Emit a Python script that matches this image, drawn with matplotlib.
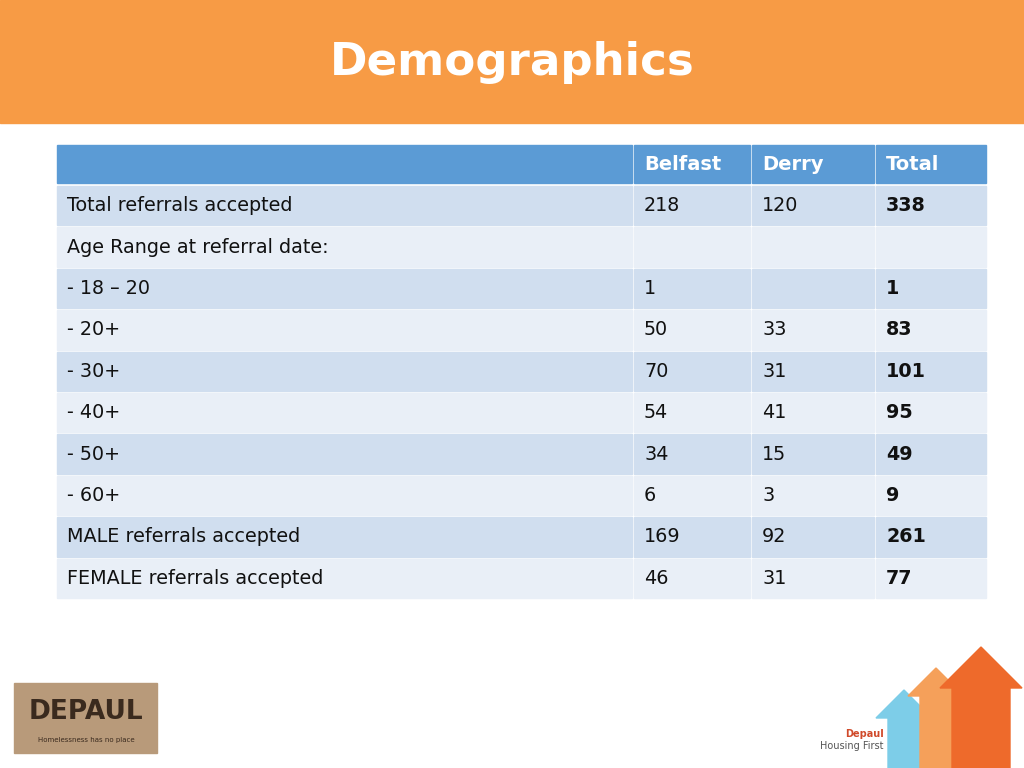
import matplotlib
matplotlib.use("Agg")
import matplotlib.pyplot as plt
from matplotlib.patches import Rectangle, Polygon

title = "Demographics"
columns = ["", "Belfast", "Derry", "Total"]
row_labels = ["Total referrals accepted", "Age Range at referral date:", "- 18 \u2013 20", "- 20+", "- 30+",
              "- 40+", "- 50+", "- 60+", "MALE referrals accepted", "FEMALE referrals accepted"]
belfast = ["218", "", "1", "50", "70", "54", "34", "6", "169", "46"]
derry = ["120", "", "", "33", "31", "41", "15", "3", "92", "31"]
total = ["338", "", "1", "83", "101", "95", "49", "9", "261", "77"]

fig = plt.figure(figsize=(10.24, 7.68), dpi=100)
ax = fig.add_axes([0, 0, 1, 1])
ax.set_xlim(0, 1024); ax.set_ylim(768, 0); ax.axis("off")

ax.add_patch(Rectangle((0, 0), 1024, 123, color="#F79B45"))
ax.text(512, 62, title, color="white", fontsize=32.5, fontweight="bold", ha="center", va="center")

col_x = [57, 634, 752, 876]
col_w = [575, 116, 122, 110]
ax_font = dict(fontsize=13.8, va="center", color="#111111")
for x, w, c in zip(col_x, col_w, columns):
    ax.add_patch(Rectangle((x, 145), w, 38, color="#5B9BD5"))
    if c:
        ax.text(x + 10, 164, c, fontsize=14, fontweight="bold", color="white", va="center")
y0, rh = 186, 41.4
for i, lab in enumerate(row_labels):
    y = y0 + i * rh
    fc = "#D0DEEF" if i % 2 == 0 else "#E9EFF7"
    vals = [lab, belfast[i], derry[i], total[i]]
    for j, (x, w) in enumerate(zip(col_x, col_w)):
        ax.add_patch(Rectangle((x, y), w, rh - 2, color=fc))
        if vals[j]:
            ax.text(x + 10, y + (rh - 2) / 2, vals[j], fontweight="bold" if j == 3 else "normal", **ax_font)

ax.add_patch(Rectangle((14, 683), 143, 70, color="#B89A7A"))
ax.text(86, 712, "DEPAUL", fontsize=19, fontweight="bold", color="#3A2A1E", ha="center", va="center")
ax.text(86, 740, "Homelessness has no place", fontsize=5, color="#3A2A1E", ha="center", va="center")

def arrow(xl, xr, ytop, color):
    cx = (xl + xr) / 2
    hw = (xr - xl) / 2 + 12
    ax.add_patch(Polygon([(xl, 768), (xl, ytop + hw), (cx - hw, ytop + hw), (cx, ytop),
                          (cx + hw, ytop + hw), (xr, ytop + hw), (xr, 768)], closed=True, color=color))
arrow(888, 920, 690, "#7DCDE8")
arrow(920, 952, 668, "#F5A05A")
arrow(952, 1010, 647, "#EE6A2B")
ax.text(884, 734, "Depaul", fontsize=7, fontweight="bold", color="#D04A2A", ha="right", va="center")
ax.text(884, 746, "Housing First", fontsize=7, color="#555555", ha="right", va="center")

fig.savefig("out.png", dpi=100)
